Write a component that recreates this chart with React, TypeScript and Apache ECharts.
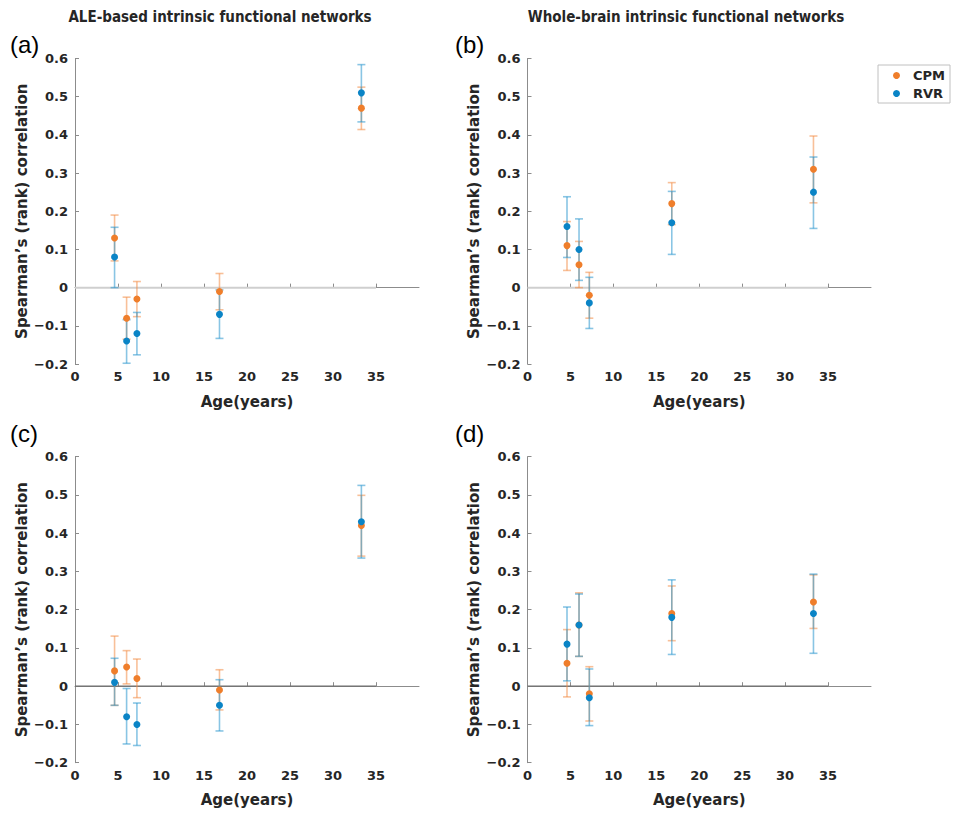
import React, { useEffect, useRef } from "react";
import * as echarts from "echarts";

// Ages (years) of the five groups
const ages = [4.6, 6.0, 7.2, 16.8, 33.3];

// Panel (a): ALE-based, first row
const aCpm = [0.13, -0.08, -0.03, -0.01, 0.47];
const aCpmLo = [0.07, -0.135, -0.076, -0.058, 0.414];
const aCpmHi = [0.19, -0.025, 0.016, 0.037, 0.525];
const aRvr = [0.08, -0.14, -0.12, -0.07, 0.51];
const aRvrLo = [0.0, -0.198, -0.176, -0.133, 0.434];
const aRvrHi = [0.158, -0.084, -0.065, -0.006, 0.584];

// Panel (b): whole-brain, first row
const bCpm = [0.11, 0.06, -0.02, 0.22, 0.31];
const bCpmLo = [0.045, 0.0, -0.08, 0.165, 0.222];
const bCpmHi = [0.173, 0.121, 0.04, 0.275, 0.397];
const bRvr = [0.16, 0.1, -0.04, 0.17, 0.25];
const bRvrLo = [0.079, 0.019, -0.107, 0.087, 0.155];
const bRvrHi = [0.238, 0.18, 0.027, 0.252, 0.342];

// Panel (c): ALE-based, second row
const cCpm = [0.04, 0.05, 0.02, -0.01, 0.42];
const cCpmLo = [-0.05, 0.006, -0.03, -0.062, 0.34];
const cCpmHi = [0.131, 0.093, 0.071, 0.043, 0.499];
const cRvr = [0.01, -0.08, -0.1, -0.05, 0.43];
const cRvrLo = [-0.05, -0.151, -0.155, -0.117, 0.335];
const cRvrHi = [0.073, -0.006, -0.044, 0.017, 0.525];

// Panel (d): whole-brain, second row
const dCpm = [0.06, 0.16, -0.02, 0.19, 0.22];
const dCpmLo = [-0.028, 0.078, -0.091, 0.119, 0.151];
const dCpmHi = [0.148, 0.244, 0.051, 0.262, 0.291];
const dRvr = [0.11, 0.16, -0.03, 0.18, 0.19];
const dRvrLo = [0.014, 0.078, -0.103, 0.083, 0.086];
const dRvrHi = [0.207, 0.241, 0.045, 0.278, 0.293];

const xTicks = [0, 5, 10, 15, 20, 25, 30, 35];
const zeroLineX = [0, 35];
const titles = ["ALE-based intrinsic functional networks", "Whole-brain intrinsic functional networks"];
const panelLabels = ["(a)", "(b)", "(c)", "(d)"];
const seriesNames = ["CPM", "RVR"];

const ORANGE = "#EF7E2B";
const ORANGE_ERR = "rgba(242,140,70,0.55)";
const BLUE = "#0A84C6";
const BLUE_ERR = "rgba(40,150,205,0.55)";
const TEXT = "#262626";
const AXIS = "#8c8c8c";
const FONT = "DejaVu Sans";

const panels = [
  { cpm: aCpm, cpmLo: aCpmLo, cpmHi: aCpmHi, rvr: aRvr, rvrLo: aRvrLo, rvrHi: aRvrHi, zero: "#cfcfcf", zw: 2 },
  { cpm: bCpm, cpmLo: bCpmLo, cpmHi: bCpmHi, rvr: bRvr, rvrLo: bRvrLo, rvrHi: bRvrHi, zero: "#cfcfcf", zw: 2 },
  { cpm: cCpm, cpmLo: cCpmLo, cpmHi: cCpmHi, rvr: cRvr, rvrLo: cRvrLo, rvrHi: cRvrHi, zero: "#6e6e6e", zw: 1.2 },
  { cpm: dCpm, cpmLo: dCpmLo, cpmHi: dCpmHi, rvr: dRvr, rvrLo: dRvrLo, rvrHi: dRvrHi, zero: "#6e6e6e", zw: 1.2 },
];

const grids = [
  { left: 75, top: 58.5, width: 344, height: 305.5 },
  { left: 527.5, top: 58.5, width: 343.5, height: 305.5 },
  { left: 75, top: 456.7, width: 344, height: 306 },
  { left: 527.5, top: 456.7, width: 343.5, height: 306 },
];

function fmtY(v: number) {
  if (Math.abs(v) < 1e-9) return "0";
  return (v < 0 ? "\u2212" : "") + Math.abs(v).toFixed(1);
}

function errorSeries(i: number, lo: number[], hi: number[], color: string) {
  return {
    type: "custom",
    xAxisIndex: i,
    yAxisIndex: i,
    silent: true,
    data: ages.map((a, k) => [a, lo[k], hi[k]]),
    renderItem: (params: any, api: any) => {
      const x = api.value(0);
      const p1 = api.coord([x, api.value(1)]);
      const p2 = api.coord([x, api.value(2)]);
      const hw = 4;
      const style = { stroke: color, lineWidth: 1.6 };
      return {
        type: "group",
        children: [
          { type: "line", shape: { x1: p1[0], y1: p1[1], x2: p2[0], y2: p2[1] }, style },
          { type: "line", shape: { x1: p1[0] - hw, y1: p1[1], x2: p1[0] + hw, y2: p1[1] }, style },
          { type: "line", shape: { x1: p2[0] - hw, y1: p2[1], x2: p2[0] + hw, y2: p2[1] }, style },
        ],
      };
    },
  };
}

function pointSeries(i: number, name: string, vals: number[], color: string) {
  return {
    type: "scatter",
    name,
    xAxisIndex: i,
    yAxisIndex: i,
    symbol: "circle",
    symbolSize: 7,
    itemStyle: { color, opacity: 1 },
    data: ages.map((a, k) => [a, vals[k]]),
  };
}

export default function App() {
  const ref = useRef<HTMLDivElement>(null);
  useEffect(() => {
    document.body.style.margin = "0";
    if (!ref.current) return;
    const chart = echarts.init(ref.current, null, { renderer: "svg" });

    const xAxes = grids.map((_, i) => ({
      type: "value",
      gridIndex: i,
      min: 0,
      max: 40,
      interval: 5,
      name: "Age(years)",
      nameLocation: "middle",
      nameGap: 30,
      nameTextStyle: { color: TEXT, fontSize: 15, fontWeight: "bold", fontFamily: FONT },
      axisLine: { show: true, lineStyle: { color: AXIS, width: 1 } },
      axisTick: { show: true, inside: true, length: 4, lineStyle: { color: AXIS }, customValues: xTicks },
      axisLabel: {
        color: TEXT,
        fontSize: 13,
        fontWeight: "bold",
        fontFamily: FONT,
        margin: 6,
        customValues: xTicks,
        formatter: (v: number) => (v > 35 ? "" : String(v)),
      },
      splitLine: { show: false },
    }));

    const yAxes = grids.map((_, i) => ({
      type: "value",
      gridIndex: i,
      min: -0.2,
      max: 0.6,
      interval: 0.1,
      name: "Spearman\u2019s (rank) correlation",
      nameLocation: "middle",
      nameGap: 46,
      nameTextStyle: { color: TEXT, fontSize: 15, fontWeight: "bold", fontFamily: FONT },
      axisLine: { show: true, lineStyle: { color: AXIS, width: 1 } },
      axisTick: { show: true, inside: true, length: 4, lineStyle: { color: AXIS } },
      axisLabel: { color: TEXT, fontSize: 13, fontWeight: "bold", fontFamily: FONT, margin: 7, formatter: fmtY },
      splitLine: { show: false },
    }));

    const series: any[] = [];
    panels.forEach((p, i) => {
      series.push({
        type: "line",
        xAxisIndex: i,
        yAxisIndex: i,
        silent: true,
        symbol: "none",
        data: zeroLineX.map((x) => [x, 0]),
        lineStyle: { color: p.zero, width: p.zw },
        z: 1,
      });
      series.push(errorSeries(i, p.cpmLo, p.cpmHi, ORANGE_ERR));
      series.push(pointSeries(i, seriesNames[0], p.cpm, ORANGE));
      series.push(errorSeries(i, p.rvrLo, p.rvrHi, BLUE_ERR));
      series.push(pointSeries(i, seriesNames[1], p.rvr, BLUE));
    });

    const labelPos = [
      [10, 44],
      [455, 44],
      [10, 433],
      [455, 433],
    ];

    const graphic: any[] = [
      {
        type: "text",
        x: 220,
        y: 17,
        style: { text: titles[0], fill: TEXT, font: "bold 15px 'DejaVu Sans Condensed', 'DejaVu Sans'", align: "center", verticalAlign: "middle" },
      },
      {
        type: "text",
        x: 686,
        y: 17,
        style: { text: titles[1], fill: TEXT, font: "bold 15px 'DejaVu Sans Condensed', 'DejaVu Sans'", align: "center", verticalAlign: "middle" },
      },
      ...panelLabels.map((t, k) => ({
        type: "text",
        x: labelPos[k][0],
        y: labelPos[k][1],
        style: { text: t, fill: "#000", font: "24px 'Liberation Sans'", align: "left", verticalAlign: "middle" },
      })),
    ];

    chart.setOption({
      animation: false,
      backgroundColor: "#fff",
      grid: grids.map((g) => ({ ...g, containLabel: false })),
      xAxis: xAxes,
      yAxis: yAxes,
      legend: {
        data: seriesNames,
        orient: "vertical",
        left: 878,
        top: 65,
        itemWidth: 7,
        itemHeight: 7,
        itemGap: 5,
        icon: "circle",
        padding: [4, 5, 3, 15],
        borderColor: "#c0c0c0",
        borderWidth: 1,
        textStyle: { color: TEXT, fontSize: 13, fontWeight: "bold", fontFamily: FONT, padding: [0, 0, 0, 8] },
      },
      graphic,
      series,
    });
    return () => chart.dispose();
  }, []);
  return <div ref={ref} style={{ width: 958, height: 813 }} />;
}
